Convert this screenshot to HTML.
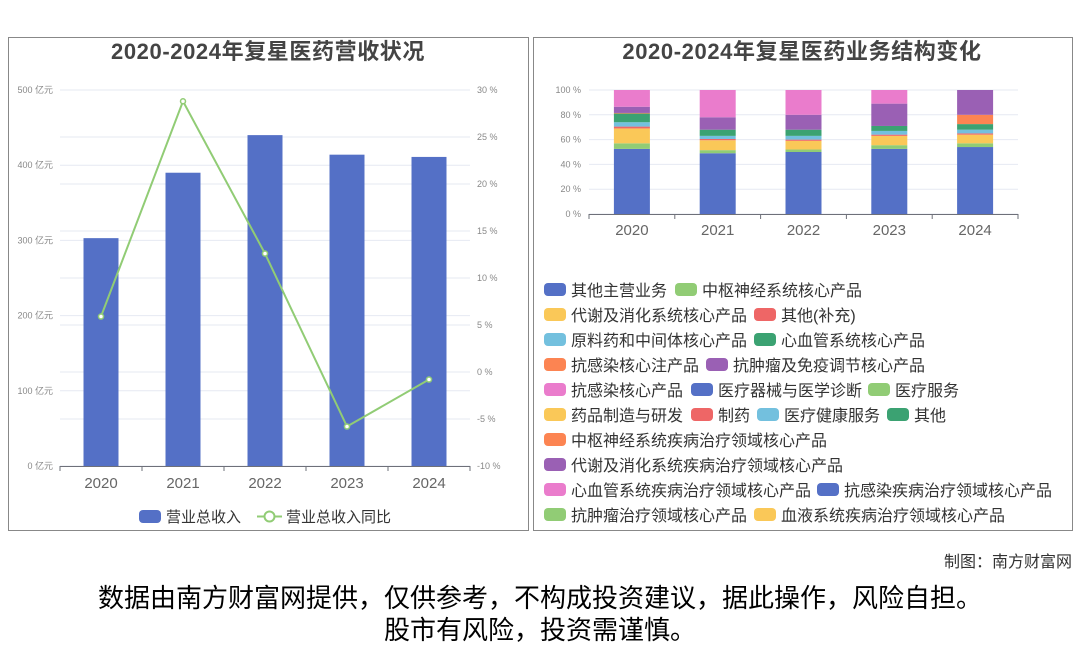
<!DOCTYPE html>
<html><head><meta charset="utf-8"><style>
body{margin:0;width:1080px;height:646px;background:#fff;font-family:"Liberation Sans","Noto Sans CJK SC",sans-serif;overflow:hidden}
svg{position:absolute;left:0;top:0}
</style></head><body>
<svg width="1080" height="646" id="svg" font-family="Liberation Sans, Noto Sans CJK SC, sans-serif">
<rect x="8.5" y="37.5" width="520" height="493" fill="none" stroke="#888"/>
<rect x="533.5" y="37.5" width="539" height="493" fill="none" stroke="#888"/>
<text x="268" y="59" text-anchor="middle" font-size="22" letter-spacing="0.6" font-weight="bold" fill="#444">2020-2024年复星医药营收状况</text>
<text x="802" y="59" text-anchor="middle" font-size="22" letter-spacing="0.6" font-weight="bold" fill="#444">2020-2024年复星医药业务结构变化</text>
<g id="left"></g>
<g id="right"></g>
<g id="legend"></g>
<text x="1072" y="567" text-anchor="end" font-size="16" fill="#333">制图：南方财富网</text>
<text x="540" y="607" text-anchor="middle" font-size="26" fill="#000">数据由南方财富网提供，仅供参考，不构成投资建议，据此操作，风险自担。</text>
<text x="540" y="639" text-anchor="middle" font-size="26" fill="#000">股市有风险，投资需谨慎。</text>
</svg>
<script>
const years=["2020","2021","2022","2023","2024"];
const revenue=[303,390,440,414,411];
const growth=[5.9,28.8,12.6,-5.8,-0.8];
const leftTicks=[0,100,200,300,400,500];
const rightTicks=[-10,-5,0,5,10,15,20,25,30];
const seriesNames=["其他主营业务","中枢神经系统核心产品","代谢及消化系统核心产品","其他(补充)","原料药和中间体核心产品","心血管系统核心产品","抗感染核心注产品","抗肿瘤及免疫调节核心产品","抗感染核心产品"];
const s0=[52.5,49,50,52.5,54];
const s1=[4.5,2.5,2,3,3];
const s2=[12,8,7,7.5,7];
const s3=[1.5,1,1,1,1];
const s4=[3.5,2.5,3,3,3];
const s5=[7,5,5,4,4.5];
const s6=[0.5,0,0,0,7.5];
const s7=[5,10,12,18,20];
const s8=[13.5,22,20,11,0];
const stackTicks=[0,20,40,60,80,100];
const legendNames=[["其他主营业务","中枢神经系统核心产品"],["代谢及消化系统核心产品","其他(补充)"],["原料药和中间体核心产品","心血管系统核心产品"],["抗感染核心注产品","抗肿瘤及免疫调节核心产品"],["抗感染核心产品","医疗器械与医学诊断","医疗服务"],["药品制造与研发","制药","医疗健康服务","其他"],["中枢神经系统疾病治疗领域核心产品"],["代谢及消化系统疾病治疗领域核心产品"],["心血管系统疾病治疗领域核心产品","抗感染疾病治疗领域核心产品"],["抗肿瘤治疗领域核心产品","血液系统疾病治疗领域核心产品"]];
const palette=["#5470c6","#91cc75","#fac858","#ee6666","#73c0de","#3ba272","#fc8452","#9a60b4","#ea7ccc"];
const NS="http://www.w3.org/2000/svg";
function mk(p,t,a){const e=document.createElementNS(NS,t);for(const k in a)e.setAttribute(k,a[k]);p.appendChild(e);return e;}
const L=document.getElementById('left');
const lx0=60,lx1=470,ly0=466,ly1=90;
const yL=v=>ly0-(v/500)*(ly0-ly1);
const yR=v=>ly0-((v+10)/40)*(ly0-ly1);
const bandL=(lx1-lx0)/years.length;
const xL=i=>lx0+bandL*(i+0.5);
rightTicks.forEach(t=>{const g=mk(L,'line',{x1:lx0,x2:lx1,y1:yR(t),y2:yR(t),stroke:'#e6e9f2'});
});
leftTicks.forEach(t=>{const g=mk(L,'line',{x1:lx0,x2:lx1,y1:yL(t),y2:yL(t),stroke:'#e6e9f2'});

const tx=mk(L,'text',{x:53,y:yL(t)+3,'text-anchor':'end','font-size':9,fill:'#888'});tx.textContent=t+' 亿元';
});
rightTicks.forEach(t=>{const tx=mk(L,'text',{x:477,y:yR(t)+3,'font-size':9,fill:'#888'});tx.textContent=t+' %';
});
revenue.forEach((v,i)=>{const r=mk(L,'rect',{x:xL(i)-17.5,y:yL(v),width:35,height:ly0-yL(v),fill:'#5470c6'});
});
const ax=mk(L,'line',{x1:lx0,x2:lx1,y1:ly0+.5,y2:ly0+.5,stroke:'#6e7079'});
years.forEach((y,i)=>{const xx=lx0+bandL*i;const tk=mk(L,'line',{x1:xx,x2:xx,y1:ly0,y2:ly0+5,stroke:'#6e7079'});
const tx=mk(L,'text',{x:xL(i),y:488,'text-anchor':'middle','font-size':15,fill:'#666'});tx.textContent=y;});
const tk2=mk(L,'line',{x1:lx1,x2:lx1,y1:ly0,y2:ly0+5,stroke:'#6e7079'});
const pl=mk(L,'polyline',{points:growth.map((v,i)=>xL(i)+','+yR(v)).join(' '),fill:'none',stroke:'#91cc75','stroke-width':2});

growth.forEach((v,i)=>{const c=mk(L,'circle',{cx:xL(i),cy:yR(v),r:2.5,fill:'#fff',stroke:'#91cc75','stroke-width':1.5});
});
const lg1=mk(L,'rect',{x:139,y:510,width:22,height:13,rx:4,fill:'#5470c6'});
const lt1=mk(L,'text',{x:166,y:522,'font-size':15,fill:'#333'});lt1.textContent='营业总收入';
const ll=mk(L,'line',{x1:257,x2:282,y1:516.5,y2:516.5,stroke:'#91cc75','stroke-width':2});
const lc=mk(L,'circle',{cx:269.5,cy:516.5,r:5,fill:'#fff',stroke:'#91cc75','stroke-width':2});
const lt2=mk(L,'text',{x:286,y:522,'font-size':15,fill:'#333'});lt2.textContent='营业总收入同比';
const R=document.getElementById('right');
const rx0=589,rx1=1018,ry0=214,ry1=90;
const yS=v=>ry0-(v/100)*(ry0-ry1);
const bandR=(rx1-rx0)/years.length;
const xS=i=>rx0+bandR*(i+0.5);
stackTicks.forEach(t=>{const g=mk(R,'line',{x1:rx0,x2:rx1,y1:yS(t),y2:yS(t),stroke:'#e6e9f2'});
const tx=mk(R,'text',{x:581,y:yS(t)+3,'text-anchor':'end','font-size':9,fill:'#888'});tx.textContent=t+' %';});
const series=[s0,s1,s2,s3,s4,s5,s6,s7,s8];
years.forEach((y,i)=>{let acc=0;series.forEach((s,k)=>{const v=s[i];if(v<=0)return;
const r=mk(R,'rect',{x:xS(i)-18,y:yS(acc+v),width:36,height:yS(acc)-yS(acc+v),fill:palette[k]});
acc+=v;});
const tx=mk(R,'text',{x:xS(i),y:235,'text-anchor':'middle','font-size':15,fill:'#666'});tx.textContent=y;
const tk=mk(R,'line',{x1:rx0+bandR*i,x2:rx0+bandR*i,y1:ry0,y2:ry0+5,stroke:'#6e7079'});});
const ax2=mk(R,'line',{x1:rx0,x2:rx1,y1:ry0+.5,y2:ry0+.5,stroke:'#6e7079'});
const tk3=mk(R,'line',{x1:rx1,x2:rx1,y1:ry0,y2:ry0+5,stroke:'#6e7079'});
const G=document.getElementById('legend');
const rowX=[[544,675],[544,754],[544,754],[544,706],[544,691,868],[544,691,757,887],[544],[544],[544,817],[544,754]];
let ci=0;
legendNames.forEach((row,ri)=>{const y=290+ri*25;row.forEach((n,j)=>{const x=rowX[ri][j];
const sw=mk(G,'rect',{x:x,y:y-7,width:22,height:13,rx:4,fill:palette[ci%9]});
const t=mk(G,'text',{x:x+27,y:y+6,'font-size':16,fill:'#333'});t.textContent=n;ci++;});});
</script>
</body></html>
